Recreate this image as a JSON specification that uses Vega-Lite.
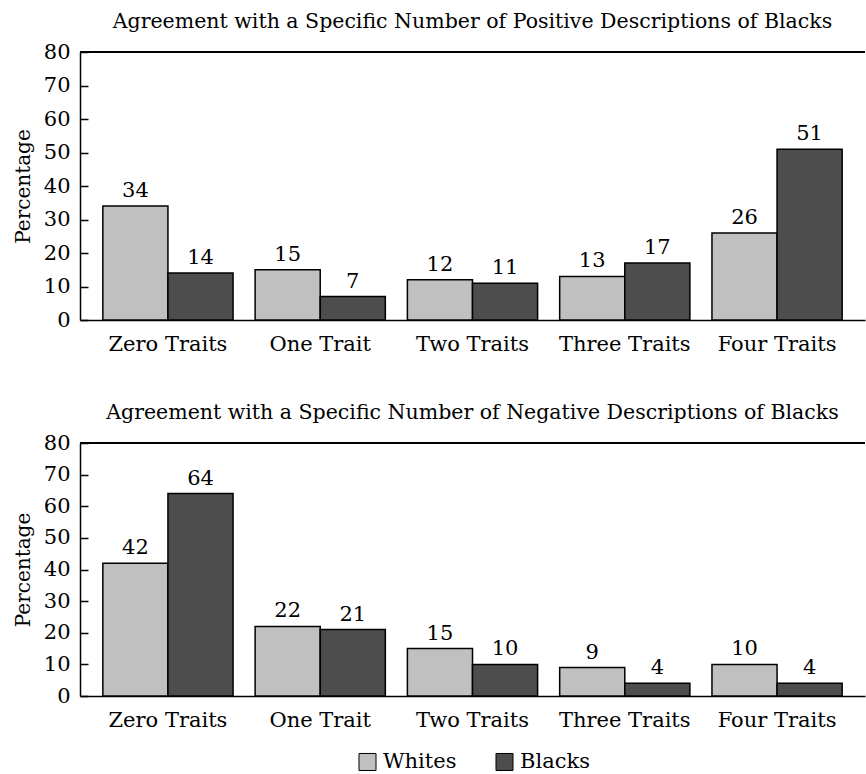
{
  "$schema": "https://vega.github.io/schema/vega-lite/v6.json",
  "padding": {"left": 13, "top": 11, "right": 0, "bottom": 0},
  "background": "white",
  "config": {
    "font": "DejaVu Serif",
    "view": {"stroke": null},
    "axis": {"labelFont": "DejaVu Serif", "labelFontSize": 21, "labelColor": "black", "titleFont": "DejaVu Serif", "titleFontSize": 20, "titleFontWeight": "normal", "titleColor": "black", "domainColor": "black", "domainWidth": 1.5, "tickColor": "black", "tickWidth": 1.5, "grid": false},
    "title": {"font": "DejaVu Serif", "fontSize": 20.5, "fontWeight": "normal", "color": "black", "anchor": "middle", "offset": 9},
    "legend": {"labelFont": "DejaVu Serif", "labelFontSize": 21, "labelColor": "black"},
    "text": {"font": "DejaVu Serif"}
  },
  "datasets": {
    "positive": [
      {"category": "Zero Traits", "group": "Whites", "value": 34},
      {"category": "Zero Traits", "group": "Blacks", "value": 14},
      {"category": "One Trait", "group": "Whites", "value": 15},
      {"category": "One Trait", "group": "Blacks", "value": 7},
      {"category": "Two Traits", "group": "Whites", "value": 12},
      {"category": "Two Traits", "group": "Blacks", "value": 11},
      {"category": "Three Traits", "group": "Whites", "value": 13},
      {"category": "Three Traits", "group": "Blacks", "value": 17},
      {"category": "Four Traits", "group": "Whites", "value": 26},
      {"category": "Four Traits", "group": "Blacks", "value": 51}
    ],
    "negative": [
      {"category": "Zero Traits", "group": "Whites", "value": 42},
      {"category": "Zero Traits", "group": "Blacks", "value": 64},
      {"category": "One Trait", "group": "Whites", "value": 22},
      {"category": "One Trait", "group": "Blacks", "value": 21},
      {"category": "Two Traits", "group": "Whites", "value": 15},
      {"category": "Two Traits", "group": "Blacks", "value": 10},
      {"category": "Three Traits", "group": "Whites", "value": 9},
      {"category": "Three Traits", "group": "Blacks", "value": 4},
      {"category": "Four Traits", "group": "Whites", "value": 10},
      {"category": "Four Traits", "group": "Blacks", "value": 4}
    ]
  },
  "spacing": 48,
  "vconcat": [
    {
      "data": {"name": "positive"},
      "width": 785,
      "height": 268,
      "title": "Agreement with a Specific Number of Positive Descriptions of Blacks",
      "encoding": {
        "x": {"field": "category", "type": "nominal", "sort": ["Zero Traits", "One Trait", "Two Traits", "Three Traits", "Four Traits"], "scale": {"paddingInner": 0.145, "paddingOuter": 0.15}, "axis": {"title": null, "labelAngle": 0, "ticks": false, "labelPadding": 13}},
        "xOffset": {"field": "group", "type": "nominal", "sort": ["Whites", "Blacks"]},
        "y": {"field": "value", "type": "quantitative", "scale": {"domain": [0, 80]}, "axis": {"title": "Percentage", "values": [0, 10, 20, 30, 40, 50, 60, 70, 80], "tickSize": -8, "labelPadding": 18, "titlePadding": 10}}
      },
      "layer": [
        {
          "mark": {"type": "bar", "stroke": "black", "strokeWidth": 1.5},
          "encoding": {"color": {"field": "group", "type": "nominal", "sort": ["Whites", "Blacks"], "scale": {"domain": ["Whites", "Blacks"], "range": ["#c0c0c0", "#4d4d4d"]}, "legend": {"title": null, "orient": "none", "legendX": 277, "legendY": 699, "direction": "horizontal", "symbolType": "square", "symbolSize": 290, "symbolStrokeColor": "black", "symbolStrokeWidth": 1, "symbolOpacity": 1, "columnPadding": 36, "labelOffset": 5}}}
        },
        {
          "mark": {"type": "text", "fontSize": 21, "baseline": "alphabetic", "dy": -9, "color": "black"},
          "encoding": {"text": {"field": "value", "type": "quantitative"}}
        },
        {
          "mark": {"type": "rule", "color": "black", "strokeWidth": 1.5},
          "encoding": {"y": {"datum": 80}, "xOffset": null, "x": null}
        }
      ]
    },
    {
      "data": {"name": "negative"},
      "width": 785,
      "height": 253,
      "title": "Agreement with a Specific Number of Negative Descriptions of Blacks",
      "encoding": {
        "x": {"field": "category", "type": "nominal", "sort": ["Zero Traits", "One Trait", "Two Traits", "Three Traits", "Four Traits"], "scale": {"paddingInner": 0.145, "paddingOuter": 0.15}, "axis": {"title": null, "labelAngle": 0, "ticks": false, "labelPadding": 13}},
        "xOffset": {"field": "group", "type": "nominal", "sort": ["Whites", "Blacks"]},
        "y": {"field": "value", "type": "quantitative", "scale": {"domain": [0, 80]}, "axis": {"title": "Percentage", "values": [0, 10, 20, 30, 40, 50, 60, 70, 80], "tickSize": -8, "labelPadding": 18, "titlePadding": 10}}
      },
      "layer": [
        {
          "mark": {"type": "bar", "stroke": "black", "strokeWidth": 1.5},
          "encoding": {"color": {"field": "group", "type": "nominal", "sort": ["Whites", "Blacks"], "scale": {"domain": ["Whites", "Blacks"], "range": ["#c0c0c0", "#4d4d4d"]}}}
        },
        {
          "mark": {"type": "text", "fontSize": 21, "baseline": "alphabetic", "dy": -9, "color": "black"},
          "encoding": {"text": {"field": "value", "type": "quantitative"}}
        },
        {
          "mark": {"type": "rule", "color": "black", "strokeWidth": 1.5},
          "encoding": {"y": {"datum": 80}, "xOffset": null, "x": null}
        }
      ]
    }
  ]
}
